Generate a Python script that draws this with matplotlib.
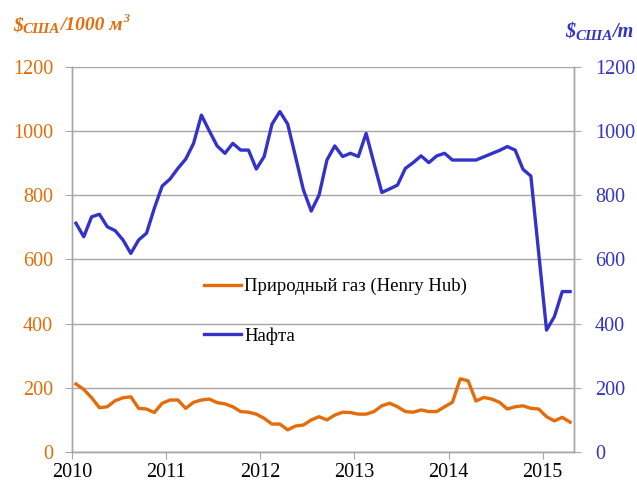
import matplotlib
matplotlib.use("Agg")
import matplotlib.pyplot as plt
from matplotlib.transforms import IdentityTransform
import numpy as np

years = ["2010", "2011", "2012", "2013", "2014", "2015"]
gas = [212, 195, 169, 138, 141, 160, 169, 172, 136, 134, 123, 152,
       162, 162, 136, 155, 162, 165, 154, 150, 141, 126, 124, 118,
       105, 87, 87, 69, 81, 84, 100, 110, 100, 115, 124, 123,
       118, 118, 126, 144, 152, 141, 126, 124, 131, 126, 126, 141,
       155, 228, 222, 159, 170, 165, 155, 134, 141, 144, 136, 134,
       110, 97, 108, 93]
oil = [713, 671, 733, 741, 702, 690, 661, 619, 661, 682, 760, 829,
       851, 884, 913, 962, 1050, 1001, 954, 931, 962, 941, 941, 882,
       921, 1022, 1061, 1022, 920, 817, 751, 801, 910, 954, 921, 931,
       921, 993, 900, 809, 820, 832, 884, 902, 923, 902, 923, 931,
       910, 910, 910, 910, 920, 930, 940, 952, 941, 881, 860, 620,
       380, 422, 500, 500]
gas_label = "Природный газ (Henry Hub)"
oil_label = "Нафта"

ORANGE = "#E46C0A"
BLUE = "#3333CC"
GRID = "#A6A6A6"
W, H = 637, 486

plt.rcParams['font.family'] = ['Liberation Serif', 'DejaVu Serif']

fig = plt.figure(figsize=(W/100, H/100), dpi=100)
ax = fig.add_axes([72/W, 1-452/H, (574-72)/W, (452-67)/H])
ax2 = ax.twinx()

x = np.arange(len(gas))
l1, = ax.plot(x, gas, color=ORANGE, lw=2.4, solid_joinstyle='round')
l2, = ax2.plot(x, oil, color=BLUE, lw=2.4, solid_joinstyle='round')

for a in (ax, ax2):
    a.set_ylim(0, 1200)
    a.set_xlim(-0.5, 63.5)
    a.set_yticks(np.arange(0, 1201, 200))
    for s in a.spines.values():
        s.set_color(GRID)
        s.set_linewidth(1)
    a.spines['top'].set_visible(False)

ax.yaxis.grid(True, color=GRID, lw=1)
ax.set_axisbelow(True)
ax.set_xticks([12*k - 0.5 for k in range(len(years))])
ax.set_xticklabels(years)
ax.tick_params(axis='x', colors=GRID, labelcolor='black', labelsize=14.5, length=5, direction='out', pad=3)
ax.tick_params(axis='y', colors=GRID, labelcolor=ORANGE, labelsize=14.5, length=5, direction='out', pad=8.6)
ax2.tick_params(axis='y', colors=GRID, labelcolor=BLUE, labelsize=14.5, length=5, direction='out', pad=10)

ax.legend([l1, l2], [gas_label, oil_label], loc='upper left',
          bbox_to_anchor=(0.23, 0.496), frameon=False, fontsize=13.5,
          labelspacing=1.7, handlelength=1.97, handletextpad=0.15)

fig.canvas.draw()
renderer = fig.canvas.get_renderer()

def draw_pieces(x0, base, pieces, color):
    xc = x0
    for txt, size, dy in pieces:
        t = fig.text(xc, H - (base + dy), txt, transform=IdentityTransform(),
                     fontsize=size, fontweight='bold', fontstyle='italic',
                     color=color, ha='left', va='baseline')
        bb = t.get_window_extent(renderer)
        xc += bb.width

draw_pieces(13, 30, [("$", 14, 0), ("США", 11, 3), ("/1000 м", 14, 0), ("3", 8.5, -8)], ORANGE)
draw_pieces(565, 37, [("$", 14.5, 0), ("США", 11, 3), ("/т", 14.5, 0)], BLUE)

fig.savefig("out.png", dpi=100)
